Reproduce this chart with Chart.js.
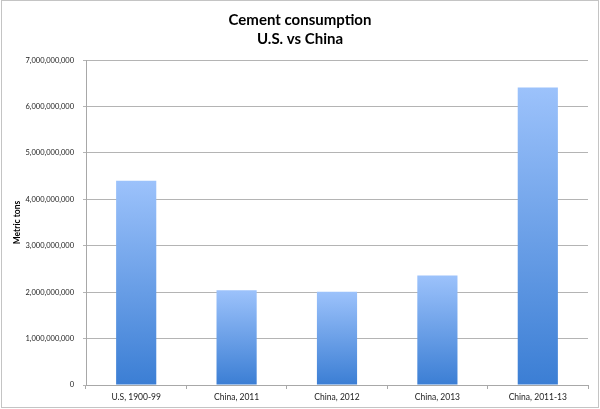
<!DOCTYPE html>
<html>
<head>
<meta charset="utf-8">
<script src="https://cdn.jsdelivr.net/npm/chart.js@4/dist/chart.umd.min.js"></script>
<style>
  html, body { margin: 0; padding: 0; background: #fff; }
  #wrap { width: 600px; height: 409px; }
</style>
</head>
<body>
<div id="wrap"><canvas id="cementChart" width="600" height="409"></canvas></div>
<script>
// values (metric tons)
const categories = ['U.S, 1900-99', 'China, 2011', 'China, 2012', 'China, 2013', 'China, 2011-13'];
const consumption = [4400000000, 2040000000, 2010000000, 2360000000, 6410000000];
const titleLines = ['Cement consumption', 'U.S. vs China'];
const yAxisTitle = 'Metric tons';

// light at the top of each bar, darker at its base
function barGradient(context) {
    const chart = context.chart;
    if (!chart.chartArea || context.type !== 'data') return '#6a9fe8';
    const y = chart.scales.y;
    const top = y.getPixelForValue(context.raw);
    const base = y.getPixelForValue(0);
    const g = chart.ctx.createLinearGradient(0, top, 0, base);
    g.addColorStop(0, '#9cc2fb');
    g.addColorStop(1, '#3b7ed4');
    return g;
}

const frame = {
    id: 'frame',
    afterDraw(chart) {
        const ctx = chart.ctx;
        ctx.save();
        ctx.strokeStyle = '#c4c4c4';
        ctx.lineWidth = 1;
        ctx.strokeRect(1.5, 0.5, 597, 407);
        ctx.restore();
    }
};

const ctx = document.getElementById('cementChart').getContext('2d');
const cementChart = new Chart(ctx, {
    type: 'bar',
    data: {
        labels: categories,
        datasets: [{
            data: consumption,
            backgroundColor: barGradient,
            borderWidth: 0,
            barPercentage: 0.4,
            categoryPercentage: 1
        }]
    },
    options: {
        responsive: false,
        animation: false,
        layout: { padding: { left: 12, right: 12, top: 0, bottom: 2 } },
        plugins: {
            legend: { display: false },
            tooltip: { enabled: false },
            title: {
                display: true,
                text: titleLines,
                color: '#000',
                font: { family: 'Lato', size: 15, weight: 'bold', lineHeight: 1.27 },
                padding: { top: 11, bottom: 11 }
            }
        },
        scales: {
            x: {
                grid: {
                    display: true,
                    drawOnChartArea: false,
                    tickLength: 4,
                    color: '#a8a8a8'
                },
                border: { color: '#a8a8a8' },
                ticks: {
                    color: '#222',
                    font: { family: 'Lato', size: 8.5 },
                    padding: 3,
                    maxRotation: 0
                },
                afterFit(scale) { scale.height = 22; }
            },
            y: {
                min: 0,
                max: 7000000000,
                ticks: {
                    stepSize: 1000000000,
                    color: '#222',
                    font: { family: 'Lato', size: 7.5 },
                    padding: 9,
                    callback: v => v.toLocaleString('en-US')
                },
                grid: { color: '#b4b4b4', tickLength: 3 },
                border: { color: '#a8a8a8' },
                title: {
                    display: true,
                    text: yAxisTitle,
                    color: '#000',
                    font: { family: 'Lato', size: 8.5, weight: 'bold' },
                    padding: 0
                },
                afterFit(scale) { scale.width = 74; }
            }
        }
    },
    plugins: [frame]
});
</script>
</body>
</html>
